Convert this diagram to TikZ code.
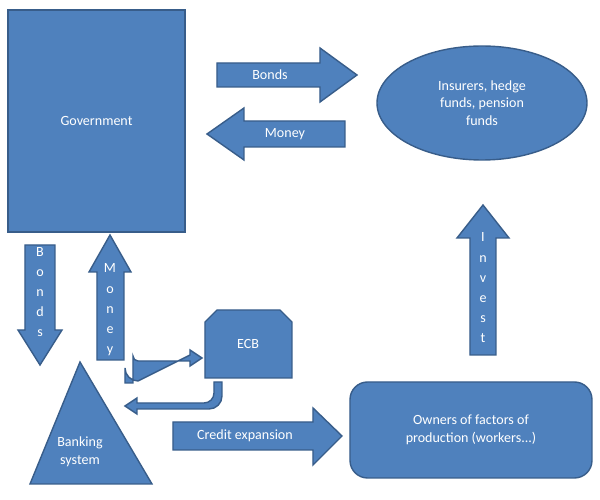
\documentclass[tikz,border=0pt]{standalone}
\usepackage{fontspec}
\setmainfont{Carlito}
\usetikzlibrary{shapes.geometric, positioning}
\definecolor{boxblue}{RGB}{79, 129, 189}
\definecolor{edgeblue}{RGB}{56, 93, 138}

\begin{document}
\begin{tikzpicture}[
    x=0.02cm, y=-0.02cm,
    blob/.style={draw=edgeblue, fill=boxblue, line width=0.8pt},
    txt/.style={text=white, font=\fontsize{8}{10}\selectfont, align=center},
]
\useasboundingbox (0,0) rectangle (600,500);

% Government
\node[blob, rectangle, minimum width=177*0.02cm, minimum height=222*0.02cm] (gov) at (96.5,121) {};
\node[txt] at (gov) {Government};

% Institutional investors
\node[blob, ellipse, minimum width=210*0.02cm, minimum height=114*0.02cm] (funds) at (482,103) {};
\node[txt] at (funds) {Insurers, hedge\\funds, pension\\funds};

% ECB
\path[blob] (205,378) -- (205,322) -- (217,310) -- (280,310) -- (292,322) -- (292,378) -- cycle;
\node[txt] (ecb) at (248,344) {ECB};

% Banking system
\path[blob] (80,362) -- (152,484) -- (30,484) -- cycle;
\node[txt] (bank) at (80,452) {Banking\\system};

% Owners
\node[blob, rectangle, rounded corners=10pt, minimum width=242*0.02cm, minimum height=96*0.02cm] (owners) at (471,430) {};
\node[txt] at (owners) {Owners of factors of\\production (workers...)};

% Bonds to investors
\path[blob] (217,63) -- (320,63) -- (320,48) -- (357,75) -- (320,102) -- (320,87) -- (217,87) -- cycle;
\node[txt] (bondsr) at (270,75) {Bonds};

% Money to government
\path[blob] (345,121) -- (244,121) -- (244,108) -- (207,134) -- (244,160) -- (244,147) -- (345,147) -- cycle;
\node[txt] (moneyl) at (285,134) {Money};

% Bonds to banks
\path[blob] (25,245) -- (55,245) -- (55,330) -- (62,330) -- (40,365) -- (18,330) -- (25,330) -- cycle;
\node[txt, font=\fontsize{8}{11.5}\selectfont] (bondsd) at (40,292) {B\\o\\n\\d\\s};

% Money to government
\path[blob] (97,360) -- (124,360) -- (124,272) -- (131,272) -- (110,235) -- (89,272) -- (97,272) -- cycle;
\node[txt, font=\fontsize{8}{11.5}\selectfont] (moneyu) at (110,310) {M\\o\\n\\e\\y};

% Banks to ECB
\path[blob] (125,383) -- (125,368) arc (180:90:13) -- (190,355) -- (190,350) -- (202,358) -- (190,366) -- (190,361) -- (138,361) arc (90:180:5) -- (133,383) -- cycle;

% ECB to banks
\path[blob] (214,382) -- (222,382) -- (222,396) arc (0:90:13) -- (137,409) -- (137,414) -- (125,406) -- (137,398) -- (137,403) -- (204,403) arc (90:0:10) -- (214,382) -- cycle;

% Credit expansion
\path[blob] (173,422) -- (313,422) -- (313,408) -- (342,436) -- (313,465) -- (313,450) -- (173,450) -- cycle;
\node[txt] (credit) at (245,436) {Credit expansion};

% Invest
\path[blob] (470,355) -- (496,355) -- (496,238) -- (509,238) -- (483,205) -- (457,238) -- (470,238) -- cycle;
\node[txt, font=\fontsize{8}{11.5}\selectfont] (invest) at (483,288) {I\\n\\v\\e\\s\\t};
\end{tikzpicture}
\end{document}
